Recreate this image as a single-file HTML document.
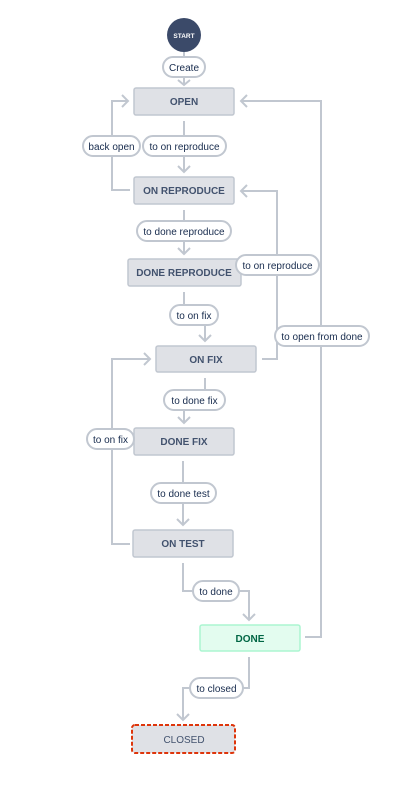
<!DOCTYPE html>
<html><head><style>
body{margin:0;background:#fff;}
svg text{font-family:"Liberation Sans",sans-serif;}
.b{fill:#dfe1e6;stroke:#c1c7d0;stroke-width:1.5}
.t{font-size:10px;font-weight:bold;fill:#42526e;text-anchor:middle}
.l{fill:#fff;stroke:#c1c7d0;stroke-width:2}
.lt{font-size:10px;fill:#172b4d;text-anchor:middle}
.c{fill:none;stroke:#c1c7d0;stroke-width:2}
</style></head><body>
<svg width="402" height="790" viewBox="0 0 402 790" xmlns="http://www.w3.org/2000/svg">
<path class="c" d="M184 52V84M178 80l6 5 6-5"/>
<path class="c" d="M184 121V172M178 166l6 6 6-6"/>
<path class="c" d="M130 190H112V101H128M122 95l6 6-6 6"/>
<path class="c" d="M184 210V254M178 248l6 6 6-6"/>
<path class="c" d="M184 292V315H205V341M199 335l6 6 6-6"/>
<path class="c" d="M262 359H277V191H241M247 185l-6 6 6 6"/>
<path class="c" d="M305 637H321V101H241M247 95l-6 6 6 6"/>
<path class="c" d="M205 378V400H184V423M178 417l6 6 6-6"/>
<path class="c" d="M183 461V525M177 519l6 6 6-6"/>
<path class="c" d="M130 544H112V359H150M144 353l6 6-6 6"/>
<path class="c" d="M183 563V591H249V620M243 614l6 6 6-6"/>
<path class="c" d="M249 657V688H183V720M177 714l6 6 6-6"/>
<circle cx="184" cy="35" r="17" fill="#3b4a69"/>
<text x="184" y="38" font-size="6.5" font-weight="bold" fill="#fff" text-anchor="middle">START</text>
<rect class="b" x="134" y="88" width="100" height="27" rx="2"/><text class="t" x="184" y="105">OPEN</text>
<rect class="b" x="134" y="177" width="100" height="27" rx="2"/><text class="t" x="184" y="194">ON REPRODUCE</text>
<rect class="b" x="128" y="259" width="113" height="27" rx="2"/><text class="t" x="184" y="276">DONE REPRODUCE</text>
<rect class="b" x="156" y="346" width="100" height="26" rx="2"/><text class="t" x="206" y="363">ON FIX</text>
<rect class="b" x="134" y="428" width="100" height="27" rx="2"/><text class="t" x="184" y="445">DONE FIX</text>
<rect class="b" x="133" y="530" width="100" height="27" rx="2"/><text class="t" x="183" y="547">ON TEST</text>
<rect x="200" y="625" width="100" height="26" rx="2" fill="#e3fcef" stroke="#abf5d1" stroke-width="1.5"/><text class="t" x="250" y="642" style="fill:#006644">DONE</text>
<rect class="b" x="132" y="725" width="103" height="28" rx="3" style="stroke:#de350b;stroke-dasharray:4 2;stroke-width:2"/><text class="t" x="184" y="743" style="font-weight:normal">CLOSED</text>
<rect class="l" x="163" y="57" width="42" height="20" rx="10"/><text class="lt" x="184" y="71">Create</text>
<rect class="l" x="83" y="136" width="57" height="20" rx="10"/><text class="lt" x="111.5" y="150">back open</text>
<rect class="l" x="143" y="136" width="83" height="20" rx="10"/><text class="lt" x="184.5" y="150">to on reproduce</text>
<rect class="l" x="137" y="221" width="94" height="20" rx="10"/><text class="lt" x="184" y="235">to done reproduce</text>
<rect class="l" x="236" y="255" width="83" height="20" rx="10"/><text class="lt" x="277.5" y="269">to on reproduce</text>
<rect class="l" x="170" y="305" width="48" height="20" rx="10"/><text class="lt" x="194" y="319">to on fix</text>
<rect class="l" x="275" y="326" width="94" height="20" rx="10"/><text class="lt" x="322" y="340">to open from done</text>
<rect class="l" x="164" y="390" width="61" height="20" rx="10"/><text class="lt" x="194.5" y="404">to done fix</text>
<rect class="l" x="87" y="429" width="47" height="20" rx="10"/><text class="lt" x="110.5" y="443">to on fix</text>
<rect class="l" x="151" y="483" width="65" height="20" rx="10"/><text class="lt" x="183.5" y="497">to done test</text>
<rect class="l" x="193" y="581" width="46" height="20" rx="10"/><text class="lt" x="216" y="595">to done</text>
<rect class="l" x="190" y="678" width="53" height="20" rx="10"/><text class="lt" x="216.5" y="692">to closed</text>
</svg>
</body></html>
